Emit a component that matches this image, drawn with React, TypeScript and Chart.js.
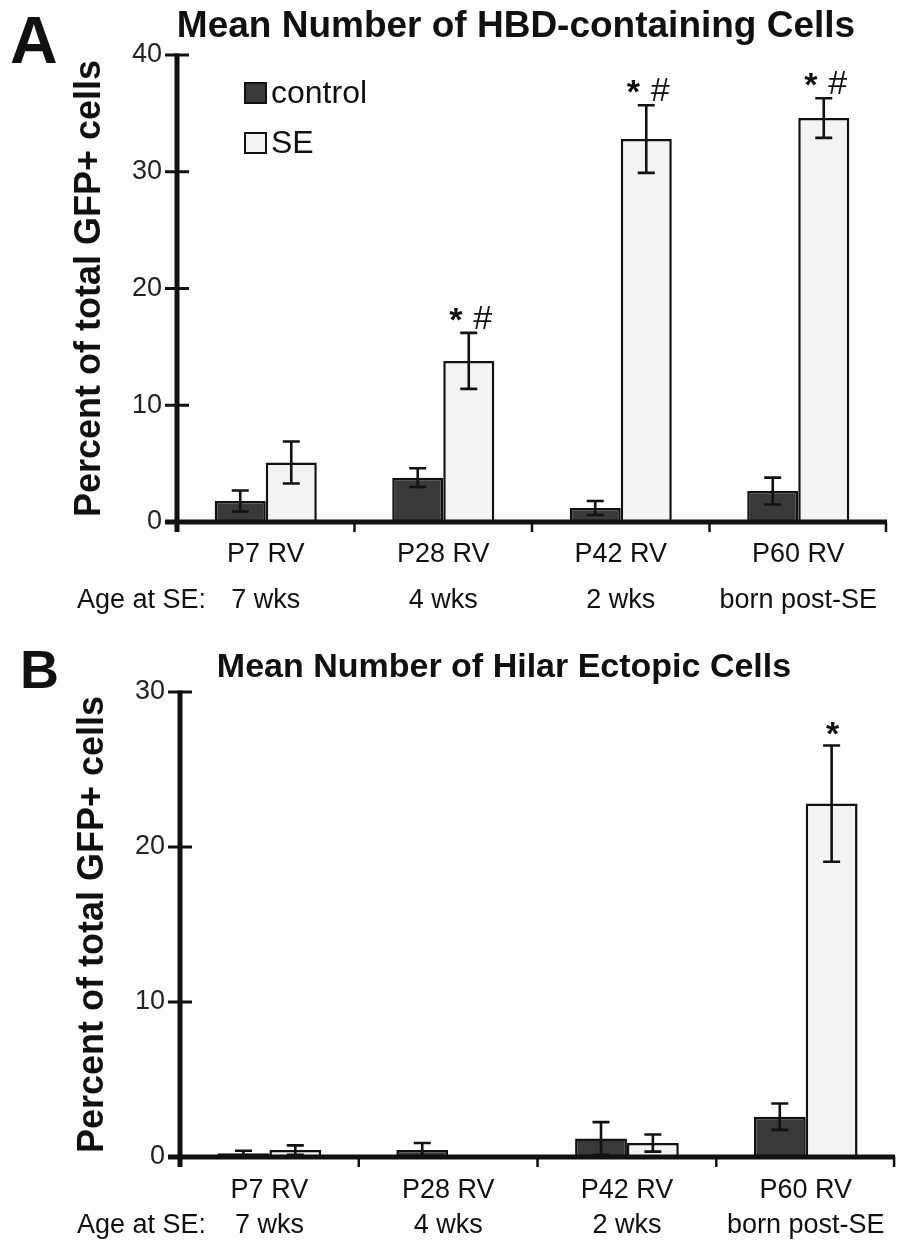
import React, { useEffect, useRef } from "react";
import { Chart, registerables } from "chart.js";
Chart.register(...registerables);

// ---------- data ----------
const categories = ["P7 RV", "P28 RV", "P42 RV", "P60 RV"];
const ageAtSE = ["7 wks", "4 wks", "2 wks", "born post-SE"];
const seriesNames = ["control", "SE"];

const hbdControl = [1.8, 3.8, 1.2, 2.65];
const hbdControlErr = [0.9, 0.8, 0.6, 1.15];
const hbdSE = [5.1, 13.8, 32.8, 34.6];
const hbdSEErr = [1.8, 2.4, 2.9, 1.7];
const hbdSEMarks = [[], ["*", "#"], ["*", "#"], ["*", "#"]];
const hbdTicks = [0, 10, 20, 30, 40];

const hilarControl = [0.25, 0.45, 1.2, 2.6];
const hilarControlErr = [0.15, 0.45, 1.05, 0.85];
const hilarSE = [0.45, 0.05, 0.9, 22.8];
const hilarSEErr = [0.3, 0.0, 0.55, 3.75];
const hilarSEMarks = [[], [], [], ["*"]];
const hilarTicks = [0, 10, 20, 30];

// ---------- style ----------
const SANS = '"Liberation Sans", Arial, Helvetica, sans-serif';
const LABEL_SIZE = 27;
const CONTROL_FILL = "#393939";
const SE_FILL = "#f3f3f3";
const INK = "#111111";

type Panel = {
  letter: string;
  letterSize: number;
  letterPos: [number, number];
  title: string;
  titleSize: number;
  titlePos: [number, number];
  height: number;
  pad: { left: number; right: number; top: number };
  yWidth: number;
  xHeight: number;
  lineHeight: number;
  xPad: number;
  ticks: number[];
  control: number[];
  controlErr: number[];
  se: number[];
  seErr: number[];
  marks: string[][];
  showLegend: boolean;
  catPct: number;
};

const panels: Panel[] = [
  {
    letter: "A",
    letterSize: 66,
    letterPos: [10, 63],
    title: "Mean Number of HBD-containing Cells",
    titleSize: 37,
    titlePos: [516, 37],
    height: 635,
    pad: { left: 68, right: 14, top: 55 },
    yWidth: 109,
    xHeight: 113,
    lineHeight: 46,
    xPad: 10,
    ticks: hbdTicks,
    control: hbdControl,
    controlErr: hbdControlErr,
    se: hbdSE,
    seErr: hbdSEErr,
    marks: hbdSEMarks,
    showLegend: true,
    catPct: 0.575,
  },
  {
    letter: "B",
    letterSize: 54,
    letterPos: [20, 53],
    title: "Mean Number of Hilar Ectopic Cells",
    titleSize: 34,
    titlePos: [504, 42],
    height: 610,
    pad: { left: 71, right: 4, top: 57 },
    yWidth: 109,
    xHeight: 88,
    lineHeight: 35,
    xPad: 16,
    ticks: hilarTicks,
    control: hilarControl,
    controlErr: hilarControlErr,
    se: hilarSE,
    seErr: hilarSEErr,
    marks: hilarSEMarks,
    showLegend: false,
    catPct: 0.58,
  },
];

function makeConfig(p: Panel): any {
  const errs = [p.controlErr, p.seErr];
  const overlay = {
    id: "overlay",
    afterDatasetsDraw(chart: any) {
      const ctx = chart.ctx;
      const ys = chart.scales.y;
      ctx.save();
      ctx.strokeStyle = INK;
      ctx.lineWidth = 2.6;
      chart.data.datasets.forEach((ds: any, di: number) => {
        const meta = chart.getDatasetMeta(di);
        meta.data.forEach((bar: any, i: number) => {
          const v = ds.data[i];
          const e = errs[di][i];
          if (!e) return;
          const x = bar.x;
          const yt = ys.getPixelForValue(v + e);
          const yb = ys.getPixelForValue(Math.max(0, v - e));
          ctx.beginPath();
          ctx.moveTo(x, yt);
          ctx.lineTo(x, yb);
          ctx.moveTo(x - 8.5, yt);
          ctx.lineTo(x + 8.5, yt);
          ctx.moveTo(x - 8.5, yb);
          ctx.lineTo(x + 8.5, yb);
          ctx.stroke();
        });
      });
      // significance marks above SE bars
      const seMeta = chart.getDatasetMeta(1);
      ctx.fillStyle = INK;
      ctx.textAlign = "center";
      ctx.textBaseline = "alphabetic";
      p.marks.forEach((m, i) => {
        if (!m.length) return;
        const bar = seMeta.data[i] as any;
        const yTop = ys.getPixelForValue(p.se[i] + p.seErr[i]) - 4;
        if (m.length === 1) {
          ctx.font = `bold 34px ${SANS}`;
          ctx.fillText(m[0], bar.x + 1, yTop + 4);
        } else {
          ctx.font = `bold 34px ${SANS}`;
          ctx.fillText(m[0], bar.x - 13, yTop + 2);
          ctx.font = `34px ${SANS}`;
          ctx.fillText(m[1], bar.x + 14, yTop);
        }
      });
      ctx.restore();
    },
    afterDraw(chart: any) {
      const ctx = chart.ctx;
      const ys = chart.scales.y;
      const xs = chart.scales.x;
      const area = chart.chartArea;
      ctx.save();
      ctx.strokeStyle = INK;
      ctx.lineCap = "butt";
      // y axis line
      ctx.lineWidth = 5;
      ctx.beginPath();
      ctx.moveTo(area.left, ys.getPixelForValue(p.ticks[p.ticks.length - 1]) - 1.5);
      ctx.lineTo(area.left, area.bottom + 10);
      ctx.stroke();
      // y ticks (crossing)
      ctx.lineWidth = 3;
      p.ticks.forEach((t) => {
        const y = ys.getPixelForValue(t);
        ctx.beginPath();
        ctx.moveTo(area.left - 12, y);
        ctx.lineTo(area.left + 12, y);
        ctx.stroke();
      });
      // x axis line
      ctx.lineWidth = 5;
      ctx.beginPath();
      ctx.moveTo(area.left - 12, area.bottom);
      ctx.lineTo(area.right, area.bottom);
      ctx.stroke();
      // category boundary ticks
      ctx.lineWidth = 2.5;
      const n = categories.length;
      for (let i = 1; i <= n; i++) {
        const x =
          i < n ? (xs.getPixelForValue(i - 1) + xs.getPixelForValue(i)) / 2 : area.right - 1;
        ctx.beginPath();
        ctx.moveTo(x, area.bottom);
        ctx.lineTo(x, area.bottom + 10);
        ctx.stroke();
      }
      // "Age at SE:" row label
      ctx.fillStyle = INK;
      ctx.font = `${LABEL_SIZE}px ${SANS}`;
      ctx.textAlign = "left";
      ctx.textBaseline = "middle";
      ctx.fillText("Age at SE:", 77, area.bottom + p.xPad + p.lineHeight * 1.5);
      // panel letter
      ctx.font = `bold ${p.letterSize}px ${SANS}`;
      ctx.textBaseline = "alphabetic";
      ctx.fillText(p.letter, p.letterPos[0], p.letterPos[1]);
      // title
      ctx.font = `bold ${p.titleSize}px ${SANS}`;
      ctx.textAlign = "center";
      ctx.fillText(p.title, p.titlePos[0], p.titlePos[1]);
      // legend
      if (p.showLegend) {
        const fills = [CONTROL_FILL, SE_FILL];
        ctx.font = `32px ${SANS}`;
        ctx.textAlign = "left";
        ctx.textBaseline = "middle";
        chart.data.datasets.forEach((ds: any, di: number) => {
          const cy = 93 + di * 50;
          ctx.fillStyle = fills[di];
          ctx.fillRect(245, cy - 10, 21, 20);
          ctx.lineWidth = 2;
          ctx.strokeRect(245, cy - 10, 21, 20);
          ctx.fillStyle = INK;
          ctx.fillText(ds.label, 271, cy + 1);
        });
      }
      ctx.restore();
    },
  };

  return {
    type: "bar",
    data: {
      labels: categories.map((c, i) => [c, ageAtSE[i]]),
      datasets: [
        {
          label: seriesNames[0],
          data: p.control,
          backgroundColor: CONTROL_FILL,
          borderColor: INK,
          borderWidth: 2.5,
          categoryPercentage: p.catPct,
          barPercentage: 1,
        },
        {
          label: seriesNames[1],
          data: p.se,
          backgroundColor: SE_FILL,
          borderColor: INK,
          borderWidth: 2.5,
          categoryPercentage: p.catPct,
          barPercentage: 1,
        },
      ],
    },
    options: {
      responsive: false,
      maintainAspectRatio: false,
      devicePixelRatio: 1,
      animation: false,
      layout: { padding: { left: p.pad.left, right: p.pad.right, top: p.pad.top, bottom: 0 } },
      plugins: { legend: { display: false }, tooltip: { enabled: false }, title: { display: false } },
      scales: {
        x: {
          type: "category",
          grid: { display: false, drawTicks: false },
          border: { display: false },
          ticks: {
            color: INK,
            padding: p.xPad,
            maxRotation: 0,
            autoSkip: false,
            font: { family: SANS, size: LABEL_SIZE, lineHeight: p.lineHeight / LABEL_SIZE },
          },
          afterFit: (s: any) => {
            s.height = p.xHeight;
          },
        },
        y: {
          min: p.ticks[0],
          max: p.ticks[p.ticks.length - 1],
          grid: { display: false, drawTicks: false },
          border: { display: false },
          ticks: {
            stepSize: p.ticks[1] - p.ticks[0],
            color: "#222222",
            padding: 15,
            font: { family: SANS, size: LABEL_SIZE },
          },
          title: {
            display: true,
            text: "Percent of total GFP+ cells",
            color: INK,
            padding: 0,
            font: { family: SANS, size: 36, weight: "bold", lineHeight: 1.2 },
          },
          afterFit: (s: any) => {
            s.width = p.yWidth;
          },
        },
      },
    },
    plugins: [overlay],
  };
}

function PanelChart({ p, top }: { p: Panel; top: number }) {
  const ref = useRef<HTMLCanvasElement | null>(null);
  useEffect(() => {
    if (!ref.current) return;
    const chart = new Chart(ref.current, makeConfig(p));
    return () => chart.destroy();
  }, [p]);
  return (
    <canvas
      ref={ref}
      width={901}
      height={p.height}
      style={{ position: "absolute", left: 0, top, width: 901, height: p.height, display: "block" }}
    />
  );
}

export default function App() {
  return (
    <div style={{ position: "absolute", left: 0, top: 0, width: 901, height: 1245, background: "#ffffff" }}>
      <PanelChart p={panels[0]} top={0} />
      <PanelChart p={panels[1]} top={635} />
    </div>
  );
}
